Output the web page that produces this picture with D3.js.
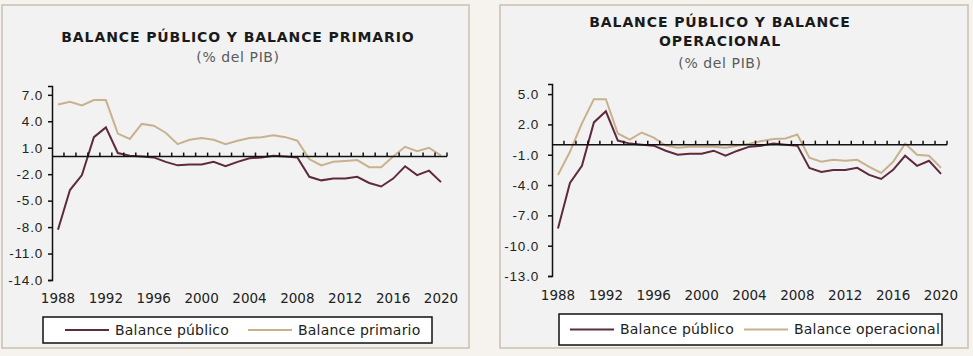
<!DOCTYPE html>
<html>
<head>
<meta charset="utf-8">
<script src="https://cdn.jsdelivr.net/npm/d3@7"></script>
<style>
  body { margin: 0; background: #f6f3ee; }
  svg { display: block; font-family: "DejaVu Sans", sans-serif; }
</style>
</head>
<body>
<svg id="chart" width="973" height="356"></svg>
<script>
// years on the category axis
const years = d3.range(1988, 2021);
const yearLabels = [1988, 1992, 1996, 2000, 2004, 2008, 2012, 2016, 2020];

// balance público (% del PIB), same series in both panels
const balancePublico = [-8.3, -3.8, -2.1, 2.2, 3.3, 0.4, 0.1, 0.0, -0.1, -0.6, -1.0, -0.9, -0.9, -0.6, -1.1, -0.6, -0.2,
  -0.1, 0.1, 0.0, -0.1, -2.3, -2.7, -2.5, -2.5, -2.3, -3.0, -3.4, -2.5, -1.1, -2.1, -1.6, -2.9];
// balance primario
const balancePrimario = [5.9, 6.2, 5.8, 6.4, 6.4, 2.6, 2.0, 3.7, 3.5, 2.7, 1.4, 1.9, 2.1, 1.9, 1.4, 1.8, 2.1,
  2.2, 2.4, 2.2, 1.8, -0.3, -1.0, -0.6, -0.5, -0.4, -1.2, -1.2, 0.0, 1.1, 0.6, 1.0, 0.1];
// balance operacional
const balanceOperacional = [-3.0, -0.7, 2.1, 4.5, 4.5, 1.1, 0.5, 1.2, 0.7, -0.1, -0.3, -0.2, -0.2, -0.2, -0.3, -0.1, 0.1,
  0.35, 0.55, 0.6, 1.0, -1.3, -1.7, -1.5, -1.6, -1.5, -2.2, -2.8, -1.7, 0.1, -1.0, -1.1, -2.3];

const leftTicks = [7, 4, 1, -2, -5, -8, -11, -14];
const rightTicks = [5, 2, -1, -4, -7, -10, -13];

const colorPublico = "#5e2a3f";
const colorSecond = "#c8b28e";

const svg = d3.select("#chart");

// one panel = frame, titles, axes, two lines and legend
function drawPanel(cfg) {
  const g = svg.append("g");

  g.append("rect")
    .attr("x", cfg.frame[0]).attr("y", cfg.frame[1])
    .attr("width", cfg.frame[2]).attr("height", cfg.frame[3])
    .attr("fill", "#f2f2f2")
    .attr("stroke", "#c9c0b2")
    .attr("stroke-width", 1.5);

  // titles
  cfg.title.forEach((t, i) => {
    g.append("text")
      .attr("x", cfg.cx).attr("y", cfg.titleY[i])
      .attr("text-anchor", "middle")
      .style("font-size", "14px")
      .style("font-weight", "bold")
      .style("letter-spacing", "0.9px")
      .attr("fill", "#1a1a1a")
      .text(t);
  });
  g.append("text")
    .attr("x", cfg.cx).attr("y", cfg.subY)
    .attr("text-anchor", "middle")
    .style("font-size", "14px")
    .style("letter-spacing", "0.6px")
    .attr("fill", "#5a5a5a")
    .text("(% del PIB)");

  const x = d3.scaleBand().domain(years).range(cfg.xRange);
  const y = d3.scaleLinear().domain(cfg.yDomain).range(cfg.yRange);

  // y axis
  const yAxis = g.append("g")
    .attr("transform", `translate(${cfg.xRange[0]},0)`)
    .call(d3.axisLeft(y).tickValues(cfg.ticks).tickSize(4).tickPadding(cfg.yPad)
      .tickFormat(d => d3.format(".1f")(d).replace("−", "-")));
  yAxis.select(".domain").attr("stroke", "#111").attr("stroke-width", 1.5);
  yAxis.selectAll(".tick line").attr("stroke", "#111").attr("stroke-width", 1.5);
  yAxis.selectAll("text")
    .style("font-size", "13.5px")
    .style("letter-spacing", "0.8px")
    .attr("fill", "#222");

  // category labels at the bottom
  g.selectAll(".xlab")
    .data(yearLabels)
    .enter().append("text")
    .attr("class", "xlab")
    .attr("x", d => x(d) + x.bandwidth() / 2)
    .attr("y", cfg.xLabY)
    .attr("text-anchor", "middle")
    .style("font-size", "13.5px")
    .attr("fill", "#222")
    .text(d => d);

  // lines
  const line = d3.line()
    .x((d, i) => x(years[i]) + x.bandwidth() / 2)
    .y(d => y(d));

  g.append("path")
    .datum(cfg.second)
    .attr("fill", "none")
    .attr("stroke", colorSecond)
    .attr("stroke-width", 2)
    .attr("d", line);

  g.append("path")
    .datum(balancePublico)
    .attr("fill", "none")
    .attr("stroke", colorPublico)
    .attr("stroke-width", 2)
    .attr("d", line);

  // zero line with tick marks between categories
  const zeroY = y(0);
  g.append("line")
    .attr("x1", cfg.xRange[0]).attr("x2", cfg.xRange[1])
    .attr("y1", zeroY).attr("y2", zeroY)
    .attr("stroke", "#111").attr("stroke-width", 1.5);
  g.selectAll(".xtick")
    .data(years.slice(1).concat(["end"]))
    .enter().append("line")
    .attr("x1", d => d === "end" ? cfg.xRange[1] : x(d))
    .attr("x2", d => d === "end" ? cfg.xRange[1] : x(d))
    .attr("y1", zeroY).attr("y2", zeroY - 4)
    .attr("stroke", "#111").attr("stroke-width", 1.5);

  // legend
  const lg = cfg.legend;
  g.append("rect")
    .attr("x", lg.box[0]).attr("y", lg.box[1])
    .attr("width", lg.box[2]).attr("height", lg.box[3])
    .attr("fill", "#fff")
    .attr("stroke", "#111")
    .attr("stroke-width", 1.5);
  const items = [
    { label: "Balance público", color: colorPublico, x: lg.items[0] },
    { label: cfg.secondLabel, color: colorSecond, x: lg.items[1] }
  ];
  const ly = lg.box[1] + lg.box[3] / 2;
  items.forEach(it => {
    g.append("line")
      .attr("x1", it.x).attr("x2", it.x + 44)
      .attr("y1", ly).attr("y2", ly)
      .attr("stroke", it.color).attr("stroke-width", 2);
    g.append("text")
      .attr("x", it.x + 50).attr("y", ly)
      .attr("dy", "0.35em")
      .style("font-size", "14px")
      .style("letter-spacing", "0.2px")
      .attr("fill", "#222")
      .text(it.label);
  });
}

drawPanel({
  frame: [2, 5, 467, 343],
  cx: 238,
  title: ["BALANCE PÚBLICO Y BALANCE PRIMARIO"],
  titleY: [42],
  subY: 62,
  xRange: [52, 447],
  yDomain: [-14, 8],
  yRange: [280, 86],
  ticks: leftTicks,
  yPad: 5,
  xLabY: 303,
  second: balancePrimario,
  secondLabel: "Balance primario",
  legend: { box: [43, 317, 389, 26], items: [65, 248] }
});

drawPanel({
  frame: [500, 5, 468, 343],
  cx: 720,
  title: ["BALANCE PÚBLICO Y BALANCE", "OPERACIONAL"],
  titleY: [27, 46],
  subY: 68,
  xRange: [552, 947],
  yDomain: [-13, 6],
  yRange: [276, 84],
  ticks: rightTicks,
  yPad: 9,
  xLabY: 300,
  second: balanceOperacional,
  secondLabel: "Balance operacional",
  legend: { box: [559, 314, 383, 31], items: [570, 744] }
});
</script>
</body>
</html>
